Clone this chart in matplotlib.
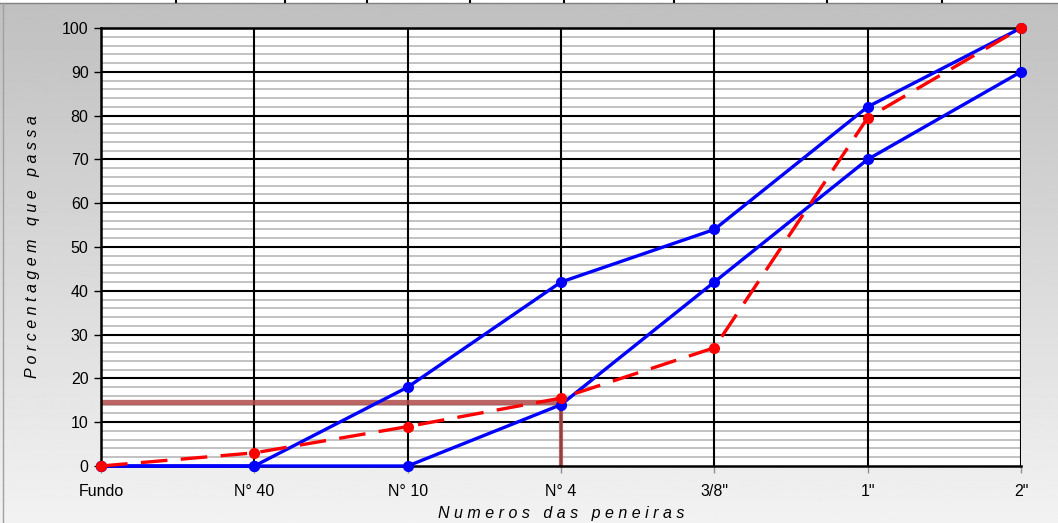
import numpy as np
import matplotlib
matplotlib.use("Agg")
from matplotlib import pyplot as plt

plt.rcParams['font.family'] = ['Liberation Sans', 'DejaVu Sans']

# sieve numbers and percent passing
peneiras = ['Fundo', 'N° 40', 'N° 10', 'N° 4', '3/8"', '1"', '2"']
limite_superior = [0, 0, 18, 42, 54, 82, 100]
limite_inferior = [0, 0, 0, 14, 42, 70, 90]
amostra = [0, 3, 9, 15.5, 27, 79.5, 100]
marca_n4 = 14.5

x = np.arange(len(peneiras))

fig = plt.figure(figsize=(10.58, 5.23), dpi=100)

# gradient background of the chart area
bg = fig.add_axes([0, 0, 1, 1], zorder=-10)
grad = np.linspace(0.75, 0.95, 256).reshape(-1, 1)
bg.imshow(grad, cmap='gray', vmin=0, vmax=1, aspect='auto', extent=[0, 1058, 523, 0])
bg.set_xlim(0, 1058)
bg.set_ylim(523, 0)
bg.axis('off')
# strip of the chart above (cut off)
bg.axhspan(0, 2.2, color='white')
bg.axhline(2.6, color='#808080', lw=1)
for xt in [176, 285, 367, 470, 564, 674, 827, 942]:
    bg.plot([xt, xt], [0, 2.5], color='black', lw=1.5, solid_capstyle='butt')
bg.plot([3, 3], [3, 523], color='#a0a0a0', lw=1)

ax = fig.add_axes([101 / 1058, 1 - 466 / 523, 920 / 1058, 438 / 523])
ax.set_facecolor('white')
ax.set_xlim(0, len(peneiras) - 1)
ax.set_ylim(0, 100)

# minor grid every 2, major every 10
for v in np.arange(2, 100, 2):
    if v % 10:
        ax.axhline(v, color='#bdbdbd', lw=1.3, zorder=0.5)
for v in np.arange(10, 101, 10):
    ax.axhline(v, color='black', lw=1.5, zorder=1)
for v in x[1:]:
    ax.axvline(v, color='black', lw=1.5, zorder=1)

ax.set_yticks(np.arange(0, 101, 10))
ax.set_xticks(x)
ax.set_xticklabels(peneiras)
ax.tick_params(axis='y', which='major', length=5, width=1, color='black',
               labelsize=11.5, pad=4)
ax.tick_params(axis='x', which='major', length=5, width=1, color='#909090',
               labelsize=11.5, pad=8)
for s in ['left', 'bottom', 'top']:
    ax.spines[s].set_linewidth(1.8)
    ax.spines[s].set_color('black')
ax.spines['right'].set_visible(False)

# highlight of the N° 4 reading
ax.plot([0, 3], [marca_n4, marca_n4], color='#b04a4a', lw=3.8, alpha=0.85,
        solid_capstyle='butt', zorder=2)
ax.plot([3, 3], [0, amostra[3]], color='#b04a4a', lw=3, alpha=0.85,
        solid_capstyle='butt', zorder=2)

ax.plot(x, limite_superior, color='#0000ff', lw=2.4, marker='o', ms=7,
        zorder=3, clip_on=False)
ax.plot(x, limite_inferior, color='#0000ff', lw=2.4, marker='o', ms=7,
        zorder=3, clip_on=False)
ax.plot(x, amostra, color='#ff0000', lw=2.4, marker='o', ms=7,
        dashes=(8, 4), zorder=4, clip_on=False)

ax.set_xlabel('N u m e r o s   d a s   p e n e i r a s', style='italic',
              fontsize=11.5, labelpad=5)
ax.set_ylabel('P o r c e n t a g e m   q u e   p a s s a', style='italic',
              fontsize=11.5, labelpad=16)

fig.savefig('out.png', dpi=100)
